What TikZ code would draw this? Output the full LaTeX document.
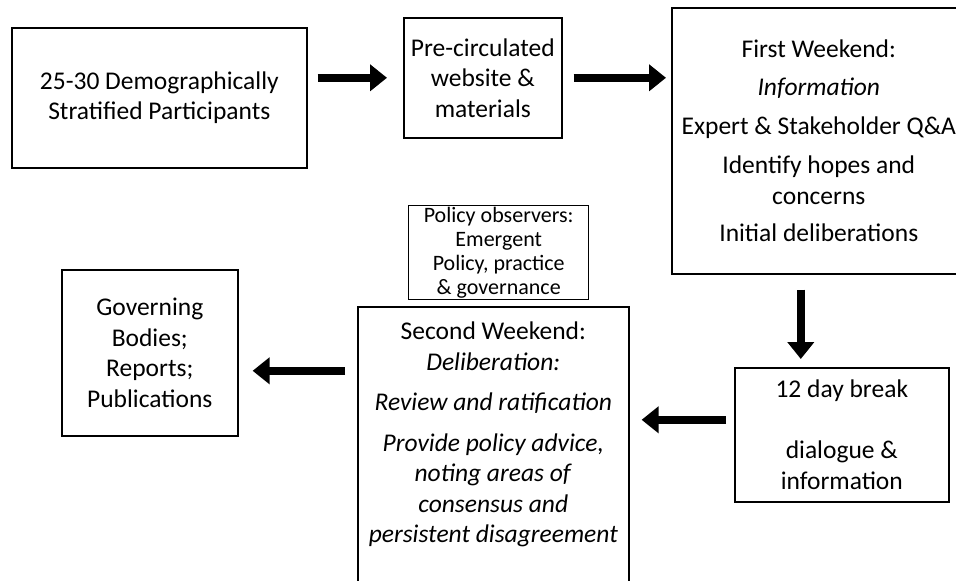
\documentclass[tikz,border=0pt]{standalone}
\usepackage{fontspec}
\setmainfont{Carlito}
\usetikzlibrary{positioning, arrows.meta, calc}

\begin{document}
\begin{tikzpicture}[
    x=1pt, y=-1pt,
    stage/.style={
      draw, line width=1.6pt, align=center, anchor=north west,
      inner sep=0pt, font=\fontsize{25.5}{30.5}\selectfont
    },
    note/.style={
      stage, line width=1.4pt, font=\fontsize{22}{24}\selectfont
    },
    flow/.style={-{Triangle[length=17pt, width=26pt]}, line width=8pt},
]
    \useasboundingbox (0,0) rectangle (956,581);

    % Top row
    \node[stage, minimum width=295pt, minimum height=140pt] (parts) at (11,27)
      {25-30 Demographically\\Stratified Participants};
    \node[stage, minimum width=158pt, minimum height=120pt] (precirc) at (403,17)
      {Pre-circulated\\website \&\\materials};
    \node[stage, minimum width=294pt, minimum height=266pt] (first) at (671,7)
      {First Weekend:\\[8pt]\textit{Information}\\[8pt]Expert \& Stakeholder Q\&A\\[9pt]
       Identify hopes and\\concerns\\[7pt]Initial deliberations};

    % Bottom row
    \node[note, minimum width=180pt, minimum height=94pt] (observers) at (408,205)
      {Policy observers:\\Emergent\\Policy, practice\\\& governance};
    \node[stage, minimum width=271pt, inner ysep=15pt] (second) at (357,306)
      {Second Weekend:\\\textit{Deliberation:}\\[10pt]\textit{Review and ratification}\\[10pt]
       \textit{Provide policy advice,}\\\textit{noting areas of}\\\textit{consensus and}\\
       \textit{persistent disagreement}\\\rule{0pt}{70pt}};
    \node[stage, minimum width=214pt, minimum height=134pt] (brk) at (734,367)
      {12 day break\\\mbox{}\\dialogue \&\\information};
    \node[stage, minimum width=176pt, minimum height=166pt] (govern) at (61,269)
      {Governing\\Bodies;\\Reports;\\Publications};
    \coordinate (govin) at ([yshift=-18pt]govern.east);

    % Flow arrows
    \draw[flow, shorten <=10pt, shorten >=16pt]
      (parts.east |- precirc.west) -- (precirc.west);
    \draw[flow, shorten <=11pt, shorten >=5pt]
      (precirc.east) -- (precirc.east -| first.west);
    \draw[flow, shorten <=15pt, shorten >=8pt]
      ([xshift=-18pt]first.south) -- ([xshift=-18pt]first.south |- brk.north);
    \draw[flow, shorten <=8pt, shorten >=12pt]
      ([yshift=15pt]brk.west) -- ([yshift=15pt]brk.west -| second.east);
    \draw[flow, shorten <=12pt, shorten >=14pt]
      (second.west |- govin) -- (govin);
\end{tikzpicture}
\end{document}
